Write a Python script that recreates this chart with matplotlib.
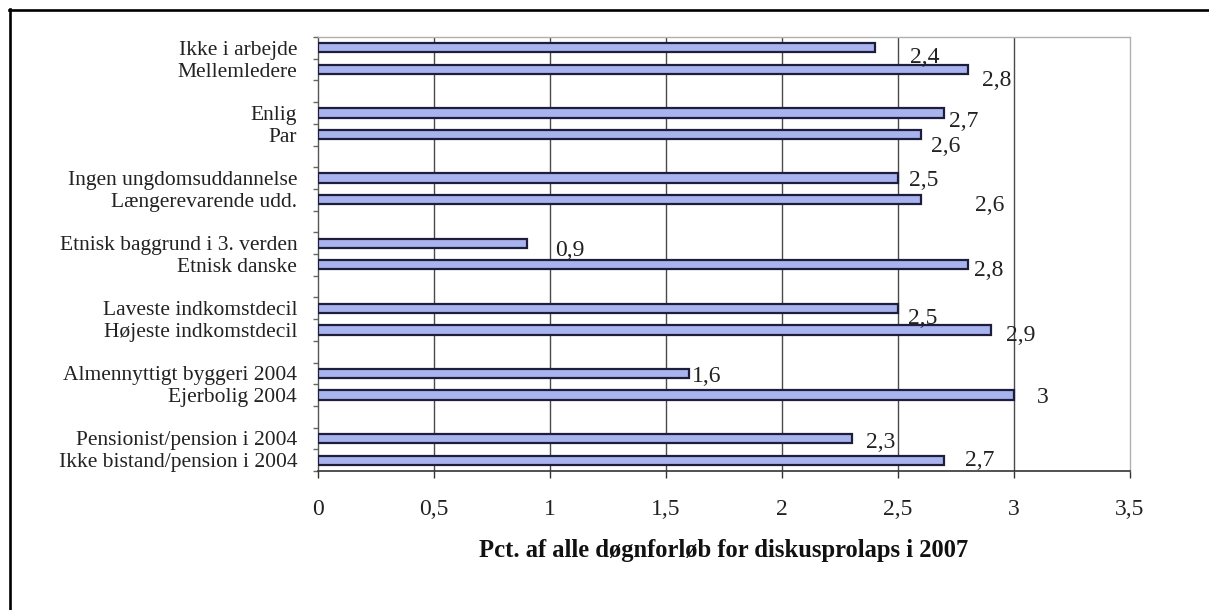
import matplotlib
matplotlib.use("Agg")
import matplotlib.pyplot as plt
from matplotlib.lines import Line2D
from matplotlib.ticker import FixedLocator, FuncFormatter

# Groups of two categories each, listed top to bottom
categories = [
    "Ikke i arbejde", "Mellemledere",
    "Enlig", "Par",
    "Ingen ungdomsuddannelse", "Længerevarende udd.",
    "Etnisk baggrund i 3. verden", "Etnisk danske",
    "Laveste indkomstdecil", "Højeste indkomstdecil",
    "Almennyttigt byggeri 2004", "Ejerbolig 2004",
    "Pensionist/pension i 2004", "Ikke bistand/pension i 2004",
]
values = [2.4, 2.8, 2.7, 2.6, 2.5, 2.6, 0.9, 2.8, 2.5, 2.9, 1.6, 3.0, 2.3, 2.7]
x_ticks = [0, 0.5, 1, 1.5, 2, 2.5, 3, 3.5]
x_title = "Pct. af alle døgnforløb for diskusprolaps i 2007"

# Placement of each value label relative to the end of its bar (pixels, right / down)
label_offsets = [
    (50, 7), (29, 8), (19, 6), (24, 9), (26, 0), (68, 3), (43, 5),
    (21, 3), (25, 8), (30, 3), (17, 1), (29, 0), (29, 2), (35, -2),
]

def comma(v):
    s = f"{v:g}"
    return s.replace(".", ",")

W, H, DPI = 1209, 610, 100
fig = plt.figure(figsize=(W / DPI, H / DPI), dpi=DPI)
plt.rcParams["font.family"] = ["Liberation Serif", "DejaVu Serif"]

left, right, top, bottom = 318, 1130, 37, 471
ax = fig.add_axes([left / W, 1 - bottom / H, (right - left) / W, (bottom - top) / H])

# Each pair occupies two slots, followed by an empty slot
slots = [3 * (k // 2) + (k % 2) + 0.5 for k in range(len(categories))]
n_slots = 3 * (len(categories) // 2) - 1

ax.barh(slots, values, height=0.42, color="#a9b4ef", edgecolor="#1e1e3c",
        linewidth=1.6, zorder=3)

ax.set_xlim(0, 3.5)
ax.set_ylim(n_slots, 0)

# Vertical gridlines
for xv in x_ticks[1:-1]:
    ax.axvline(xv, color="#4a4a4a", lw=1.0, zorder=1)

ax.xaxis.set_major_locator(FixedLocator(x_ticks))
ax.xaxis.set_major_formatter(FuncFormatter(lambda v, p: comma(v)))
ax.tick_params(axis="x", direction="out", length=5, width=1, color="#333333",
               pad=15, labelsize=17, labelcolor="#222222")

ax.set_yticks(slots)
ax.set_yticklabels(categories)
ax.yaxis.set_minor_locator(FixedLocator(range(0, n_slots + 1)))
ax.tick_params(axis="y", which="major", length=0, pad=15, labelsize=15.5,
               labelcolor="#222222")
ax.tick_params(axis="y", which="minor", direction="out", length=3.6, width=1,
               color="#666666")

for side in ("top", "right"):
    ax.spines[side].set_color("#b0b0b0")
    ax.spines[side].set_linestyle((0, (2, 1)))
    ax.spines[side].set_linewidth(1.0)
ax.spines["left"].set_color("#555555")
ax.spines["left"].set_linewidth(1.0)
ax.spines["bottom"].set_color("#333333")
ax.spines["bottom"].set_linewidth(1.2)

ax.set_xlabel(x_title, fontsize=17.7, fontweight="bold", labelpad=14,
              color="#111111")

# Value labels
for y, v, (dx, dy) in zip(slots, values, label_offsets):
    ax.annotate(comma(v), xy=(v, y), xytext=(dx, -(dy + 8)),
                textcoords="offset pixels", ha="center", va="baseline",
                fontsize=17, color="#222222", zorder=4)

# Frame lines along the top and left edge of the page
fig.add_artist(Line2D([9 / W, 1], [1 - 10 / H, 1 - 10 / H], color="black",
                      lw=1.9, transform=fig.transFigure))
fig.add_artist(Line2D([10 / W, 10 / W], [0, 1 - 9 / H], color="black",
                      lw=1.9, transform=fig.transFigure))

fig.savefig("out.png", dpi=DPI, facecolor="white")
